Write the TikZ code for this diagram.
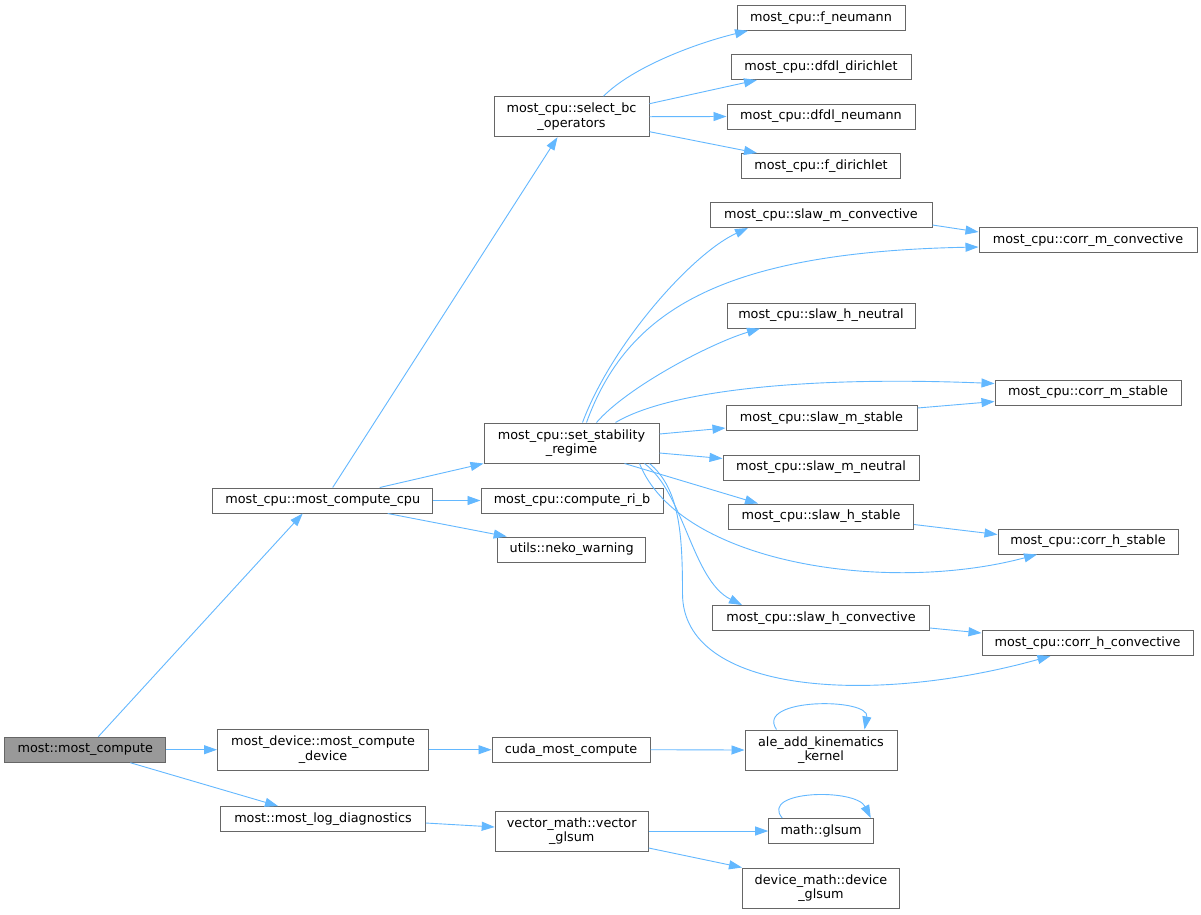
\documentclass[tikz,border=0pt]{standalone}
\usepackage{fontspec}
\setmainfont{DejaVu Sans}
\usetikzlibrary{arrows.meta, calc}
\definecolor{edgeblue}{HTML}{63B8FF}
\definecolor{boxgray}{HTML}{666666}
\definecolor{rootgray}{HTML}{999999}
\tikzstyle{arrow} = [draw=edgeblue, line width=0.9pt, ->, >={Triangle[length=13pt,width=9pt]}]
\tikzstyle{fn} = [draw=boxgray, line width=1pt, fill=white, inner sep=0pt, minimum height=25pt, align=center, font=\fontsize{12.8}{14.3}\selectfont]

\begin{document}
\begin{tikzpicture}[x=1pt, y=-1pt]
	\fill[white] (0,0) rectangle (1201,914);
	\useasboundingbox (0,0) rectangle (1201,914);
	% callers on the left
	\node[fn, fill=rootgray, minimum width=160.7pt] (mc) at (85.3,749.7) {most::most\_compute};
	\node[fn, minimum width=220pt] (cpu) at (322.7,500.5) {most\_cpu::most\_compute\_cpu};
	\node[fn, minimum width=211pt, minimum height=40.7pt] (dev) at (323,749.7) {most\_device::most\_compute\\\_device};
	\node[fn, minimum width=204.6pt] (log) at (323,819) {most::most\_log\_diagnostics};
	% middle column
	\node[fn, minimum width=155pt, minimum height=40pt] (sel) at (571.5,116.7) {most\_cpu::select\_bc\\\_operators};
	\node[fn, minimum width=175pt, minimum height=40pt] (ssr) at (571.5,443) {most\_cpu::set\_stability\\\_regime};
	\node[fn, minimum width=182pt] (ri) at (572,500.5) {most\_cpu::compute\_ri\_b};
	\node[fn, minimum width=148pt] (neko) at (571.7,549.5) {utils::neko\_warning};
	\node[fn, minimum width=158pt] (cuda) at (571,749.7) {cuda\_most\_compute};
	\node[fn, minimum width=153pt, minimum height=40pt] (vgl) at (571.7,831) {vector\_math::vector\\\_glsum};
	% right columns
	\node[fn, minimum width=168pt] (fneu) at (821,17.7) {most\_cpu::f\_neumann};
	\node[fn, minimum width=180pt] (ddir) at (821,67) {most\_cpu::dfdl\_dirichlet};
	\node[fn, minimum width=188pt] (dneu) at (821,116.5) {most\_cpu::dfdl\_neumann};
	\node[fn, minimum width=159pt] (fdir) at (821,166) {most\_cpu::f\_dirichlet};
	\node[fn, minimum width=222pt] (smc) at (821,215) {most\_cpu::slaw\_m\_convective};
	\node[fn, minimum width=218pt] (cmc) at (1088,240) {most\_cpu::corr\_m\_convective};
	\node[fn, minimum width=188pt] (shn) at (821,315.5) {most\_cpu::slaw\_h\_neutral};
	\node[fn, minimum width=186pt] (cms) at (1088,392.5) {most\_cpu::corr\_m\_stable};
	\node[fn, minimum width=191pt] (sms) at (821.5,418) {most\_cpu::slaw\_m\_stable};
	\node[fn, minimum width=196pt] (smn) at (821,467.5) {most\_cpu::slaw\_m\_neutral};
	\node[fn, minimum width=185pt] (shs) at (821,516.5) {most\_cpu::slaw\_h\_stable};
	\node[fn, minimum width=180pt] (chs) at (1088,541.5) {most\_cpu::corr\_h\_stable};
	\node[fn, minimum width=217pt] (shc) at (821,618) {most\_cpu::slaw\_h\_convective};
	\node[fn, minimum width=211pt] (chc) at (1087.5,643) {most\_cpu::corr\_h\_convective};
	\node[fn, minimum width=152pt, minimum height=40pt] (ale) at (821,750) {ale\_add\_kinematics\\\_kernel};
	\node[fn, minimum width=104.6pt] (gls) at (821,831) {math::glsum};
	\node[fn, minimum width=157pt, minimum height=40pt] (dgl) at (821,888) {device\_math::device\\\_glsum};

	% calls from most_compute
	\draw[arrow] ($(mc.north)+(13,0)$) -- ($(cpu.south)+(-20,0)$);
	\draw[arrow] (mc.east) -- (dev.west);
	\draw[arrow] ($(mc.south)+(45,0)$) -- ($(log.north)+(-45,0)$);
	% calls from most_compute_cpu
	\draw[arrow] ($(cpu.north)+(10,0)$) -- ($(sel.south)+(-14,0)$);
	\draw[arrow] ($(cpu.north)+(57,0)$) -- (ssr.south west);
	\draw[arrow] (cpu.east) -- (ri.west);
	\draw[arrow] ($(cpu.south)+(65,0)$) -- ($(neko.north)+(-65,0)$);
	% select_bc_operators
	\draw[arrow] ($(sel.north)+(32,0)$) .. controls +(30,-30) and +(-50,12) .. ($(fneu.south)+(-73,0)$);
	\draw[arrow] ($(sel.east)+(0,-13)$) -- ($(ddir.south)+(-64,0)$);
	\draw[arrow] (sel.east) -- (dneu.west);
	\draw[arrow] ($(sel.east)+(0,15)$) -- ($(fdir.north)+(-64,0)$);
	% set_stability_regime
	\draw[arrow] ($(ssr.north)+(11,0)$) .. controls +(30,-80) and +(-55,25) .. ($(smc.south)+(-73,0)$);
	\draw[arrow] ($(ssr.north)+(15,0)$) .. controls +(40,-110) and +(-260,5) .. ($(cmc.west)+(0,7)$);
	\draw[arrow] ($(ssr.north)+(25,0)$) .. controls +(30,-35) and +(-50,15) .. ($(shn.south)+(-61,0)$);
	\draw[arrow] ($(ssr.north)+(44,0)$) .. controls +(50,-30) and +(-200,-8) .. ($(cms.west)+(0,-9)$);
	\draw[arrow] ($(ssr.east)+(0,-9)$) -- ($(sms.west)+(0,10)$);
	\draw[arrow] ($(ssr.east)+(0,10)$) -- ($(smn.west)+(0,-9)$);
	\draw[arrow] ($(ssr.south)+(53,0)$) -- ($(shs.north)+(-63,0)$);
	\draw[arrow] ($(ssr.south)+(68,0)$) .. controls +(40,100) and +(-150,40) .. ($(chs.south)+(-51,0)$);
	\draw[arrow] ($(ssr.south)+(73,0)$) .. controls +(40,30) and +(-50,-25) .. ($(shc.north)+(-79,0)$);
	\draw[arrow] ($(ssr.south)+(78,0)$) .. controls +(30,25) and +(0,-60) .. ++(33,130)
		.. controls +(0,100) and +(-180,50) .. ($(chc.south)+(-37,0)$);
	% slaw to corr
	\draw[arrow] ($(smc.east)+(0,10)$) -- ($(cmc.west)+(0,-8)$);
	\draw[arrow] ($(sms.east)+(0,-10)$) -- ($(cms.west)+(0,9)$);
	\draw[arrow] ($(shs.east)+(0,8)$) -- ($(chs.west)+(0,-7)$);
	\draw[arrow] ($(shc.east)+(0,10)$) -- ($(chc.west)+(0,-10)$);
	% device branch
	\draw[arrow] (dev.east) -- (cuda.west);
	\draw[arrow] (cuda.east) -- (ale.west);
	\draw[arrow] ($(ale.north west)+(32,0)$) .. controls +(-22,-32) and +(6,-32) .. ($(ale.north east)+(-33,0)$);
	% diagnostics branch
	\draw[arrow] ($(log.east)+(0,4)$) -- ($(vgl.west)+(0,-4)$);
	\draw[arrow] (vgl.east) -- (gls.west);
	\draw[arrow] ($(vgl.east)+(0,17)$) -- (dgl.north west);
	\draw[arrow] ($(gls.north west)+(14,0)$) .. controls +(-23,-28) and +(-15,-30) .. ($(gls.north east)+(-3,0)$);
\end{tikzpicture}
\end{document}
